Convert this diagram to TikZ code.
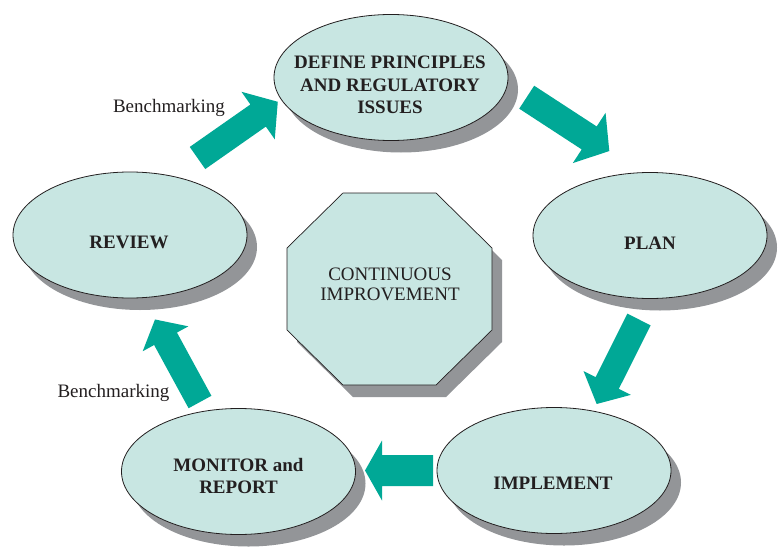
\documentclass[tikz,border=0pt]{standalone}
\usepackage{fontspec}
\setmainfont{Liberation Serif}
\usetikzlibrary{shapes.geometric,shadows}
\definecolor{ellfill}{RGB}{200,230,226}
\definecolor{shadowgray}{RGB}{147,149,152}
\definecolor{arrowteal}{RGB}{0,168,150}
\definecolor{ink}{RGB}{35,31,32}
% #1 tail point, #2 angle, #3 length, #4 half shaft, #5 half head, #6 head length
\newcommand\fatarrow[6]{%
  \fill[arrowteal, shift={#1}, rotate=#2]
    (0,-#4) -- ({#3-#6},-#4) -- ({#3-#6},-#5) -- (#3,0)
    -- ({#3-#6},#5) -- ({#3-#6},#4) -- (0,#4) -- cycle;}
\tikzset{
  shadowed/.style={drop shadow={shadow xshift=10pt, shadow yshift=-12pt,
      fill=shadowgray, opacity=1}},
  ell/.style={ellipse, draw=ink, line width=0.8pt, fill=ellfill,
      minimum width=234pt, minimum height=126pt, inner sep=0pt, shadowed},
  elltext/.style={font=\fontsize{19}{22.5}\selectfont\bfseries, text=ink,
      align=center, inner sep=0pt},
  plaintext/.style={font=\fontsize{19}{20}\selectfont, text=ink,
      align=center, inner sep=0pt},
}
\begin{document}
\begin{tikzpicture}[x=1pt, y=-1pt]
\fill[white] (0,0) rectangle (779,551);
\useasboundingbox (0,0) rectangle (779,551);

% octagon
\draw[ink, line width=0.7pt, fill=ellfill, shadowed]
  (343,193) -- (436,193) -- (492,248) -- (492,330) -- (436,385)
  -- (343,385) -- (287,330) -- (287,248) -- cycle;
\node[plaintext] (ci) at (390,284.7) {CONTINUOUS\\IMPROVEMENT};

% ellipses
\node[ell] (define) at (391,77.5) {};
\node[ell] (plan) at (650,235.5) {};
\node[ell] (review) at (130,235) {};
\node[ell] (monitor) at (238.5,471.5) {};
\node[ell] (implement) at (554,470.5) {};

\node[elltext] (definet) at (390,85) {DEFINE PRINCIPLES\\AND REGULATORY\\ISSUES};
\node[elltext] (plant) at (650,243.3) {PLAN};
\node[elltext] (reviewt) at (129,242.7) {REVIEW};
\node[elltext] (monitort) at (238.5,475.8) {MONITOR and\\REPORT};
\node[elltext] (implementt) at (553,483.7) {IMPLEMENT};

% arrows
\fatarrow{(197.5,158)}{35}{98}{13.5}{29}{24}
\fatarrow{(526.7,97.2)}{-33.1}{98.6}{13.7}{30}{24}
\fatarrow{(639,319.5)}{-116.6}{94.5}{13}{26.5}{23.5}
\fatarrow{(433,470.5)}{180}{68}{15.5}{30}{17}
\fatarrow{(200,402)}{118.6}{94}{13}{26}{22}

% labels
\node[plaintext, anchor=base] (bm1) at (169,112) {Benchmarking};
\node[plaintext, anchor=base] (bm2) at (113.5,397) {Benchmarking};
\end{tikzpicture}
\end{document}
